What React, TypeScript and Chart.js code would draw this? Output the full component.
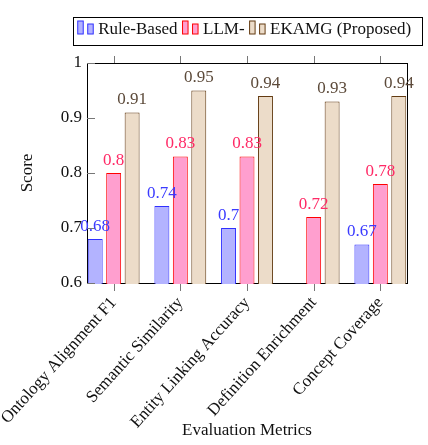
import React, { useEffect, useRef } from "react";
import { Chart, registerables } from "chart.js";

Chart.register(...registerables);

const categories = [
  "Ontology Alignment F1",
  "Semantic Similarity",
  "Entity Linking Accuracy",
  "Definition Enrichment",
  "Concept Coverage",
];
const seriesNames = ["Rule-Based", "LLM-", "EKAMG (Proposed)"];
const ruleBased = [0.68, 0.74, 0.7, 0, 0.67];
const llm = [0.8, 0.83, 0.83, 0.72, 0.78];
const ekamg = [0.91, 0.95, 0.94, 0.93, 0.94];
const yTicks = [0.6, 0.7, 0.8, 0.9, 1];

const FONT = "'Liberation Serif', 'Times New Roman', serif";
const fills = ["#b3b3ff", "#ff9fcf", "#ecdcc9"];
const borders = ["#3030ff", "#ff0000", "#633b12"];
const labelColors = ["#3b3bff", "#ff2a66", "#5c4a3a"];

const decorations = {
  id: "decorations",
  beforeDatasetsDraw(chart: any) {
    const { ctx, chartArea } = chart;
    const { left, right, top, bottom } = chartArea;
    // frame (drawn under the bars, so bar edges sit on the axis)
    ctx.save();
    ctx.strokeStyle = "#000";
    ctx.lineWidth = 1;
    ctx.strokeRect(left + 0.5, top + 0.5, right - left, bottom - top);
    ctx.restore();
  },
  afterDatasetsDraw(chart: any) {
    const { ctx, chartArea, scales } = chart;
    const { left, right, top, bottom } = chartArea;
    ctx.save();

    // tick marks
    ctx.strokeStyle = "#777";
    ctx.lineWidth = 1;
    ctx.beginPath();
    categories.forEach((_, i) => {
      const px = Math.round(scales.x.getPixelForValue(i)) + 0.5;
      ctx.moveTo(px, top - 7);
      ctx.lineTo(px, top);
      ctx.moveTo(px, bottom + 1);
      ctx.lineTo(px, bottom + 8);
    });
    yTicks.forEach((v) => {
      const py = Math.round(scales.y.getPixelForValue(v)) + 0.5;
      ctx.moveTo(left, py);
      ctx.lineTo(left + 8, py);
    });
    ctx.stroke();

    // value labels
    ctx.font = `17px ${FONT}`;
    ctx.textAlign = "center";
    ctx.textBaseline = "bottom";
    chart.data.datasets.forEach((ds: any, di: number) => {
      const meta = chart.getDatasetMeta(di);
      meta.data.forEach((el: any, i: number) => {
        const v = ds.data[i].y;
        if (v <= scales.y.min) return;
        ctx.fillStyle = labelColors[di];
        ctx.fillText(String(v), el.x, el.y - 4);
      });
    });

    // legend
    const widths = seriesNames.map((n) => ctx.measureText(n).width);
    const itemW = widths.map((w) => 20.5 + w);
    const total = 5 + itemW.reduce((a, b) => a + b, 0) + 5 * (seriesNames.length - 1) + 10;
    const boxLeft = (left + right) / 2 - total / 2;
    const boxTop = 17;
    const boxH = 28;
    ctx.fillStyle = "#fff";
    ctx.fillRect(boxLeft, boxTop, total, boxH);
    ctx.strokeStyle = "#000";
    ctx.strokeRect(Math.round(boxLeft) + 0.5, boxTop + 0.5, Math.round(total), boxH);
    let sx = boxLeft + 5;
    ctx.textAlign = "left";
    ctx.textBaseline = "alphabetic";
    seriesNames.forEach((n, i) => {
      const base = 34;
      ctx.fillStyle = fills[i];
      ctx.strokeStyle = borders[i];
      ctx.fillRect(sx, base - 13, 5.5, 13);
      ctx.strokeRect(sx, base - 13, 5.5, 13);
      ctx.fillRect(sx + 10, base - 10, 5.5, 10);
      ctx.strokeRect(sx + 10, base - 10, 5.5, 10);
      ctx.fillStyle = "#111";
      ctx.fillText(n, sx + 20.5, base);
      sx += itemW[i] + 5;
    });

    ctx.restore();
  },
};

const App = () => {
  const canvasRef: any = useRef(null);
  const chartInstance: any = useRef(null);

  useEffect(() => {
    document.body.style.margin = "0";
    const ctx = canvasRef.current.getContext("2d");
    const series = [ruleBased, llm, ekamg];

    chartInstance.current = new Chart(ctx, {
      type: "bar",
      data: {
        datasets: series.map((vals, di) => ({
          label: seriesNames[di],
          data: vals.map((v, i) => ({ x: i, y: v })),
          backgroundColor: fills[di],
          borderColor: borders[di],
          borderWidth: 1,
          borderSkipped: false,
          categoryPercentage: 0.83,
          barPercentage: 0.81,
          clip: { left: false, top: false, right: false, bottom: 1 },
        })),
      },
      options: {
        animation: false,
        responsive: true,
        maintainAspectRatio: false,
        layout: { padding: { top: 63, right: 21, left: 0, bottom: 0 } },
        plugins: {
          legend: { display: false },
          tooltip: { enabled: false },
        },
        scales: {
          x: {
            type: "linear",
            min: -0.4,
            max: 4.4,
            offset: false,
            grid: { display: false, drawTicks: false },
            border: { display: false },
            afterBuildTicks: (s: any) => {
              s.ticks = categories.map((_, i) => ({ value: i }));
            },
            afterFit: (s: any) => {
              s.height = 162;
              s.paddingLeft = 0;
              s.paddingRight = 0;
            },
            ticks: {
              autoSkip: false,
              minRotation: 48,
              maxRotation: 48,
              padding: 10,
              color: "#111",
              font: { family: FONT, size: 17 },
              callback: (v: any) => categories[v],
            },
            title: {
              display: true,
              text: "Evaluation Metrics",
              color: "#111",
              padding: { top: 0, bottom: 4 },
              font: { family: FONT, size: 17 },
            },
          },
          y: {
            min: 0.6,
            max: 1,
            grid: { display: false, drawTicks: false },
            border: { display: false },
            afterBuildTicks: (s: any) => {
              s.ticks = yTicks.map((v) => ({ value: v }));
            },
            afterFit: (s: any) => {
              s.width = 87;
            },
            ticks: {
              padding: 5,
              color: "#111",
              font: { family: FONT, size: 17 },
              callback: (v: any) => String(v),
            },
            title: {
              display: true,
              text: "Score",
              color: "#111",
              padding: { top: 17, bottom: 0 },
              font: { family: FONT, size: 17 },
            },
          },
        },
      },
      plugins: [decorations],
    });

    return () => {
      if (chartInstance.current) {
        chartInstance.current.destroy();
      }
    };
  }, []);

  return (
    <div style={{ position: "relative", width: 428, height: 445 }}>
      <canvas ref={canvasRef}></canvas>
    </div>
  );
};

export default App;
